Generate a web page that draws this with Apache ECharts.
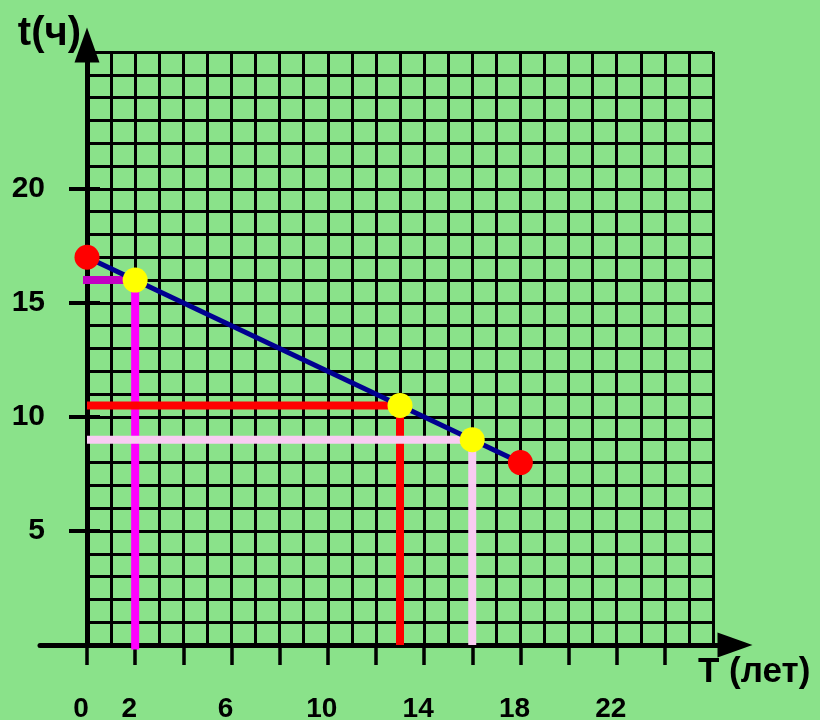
<!DOCTYPE html>
<html>
<head>
<meta charset="utf-8">
<script src="https://cdn.jsdelivr.net/npm/echarts@6/dist/echarts.min.js"></script>
<style>
  html, body { margin: 0; padding: 0; background: #8ae28a; }
  #chart { width: 820px; height: 720px; }
</style>
</head>
<body>
<div id="chart"></div>
<script>
// the straight line t(T), both ends marked red
const lineT = [0, 18];
const lineHours = [17, 8];
// yellow read-off points, each with its guide lines to the axes
const readT = [2, 13, 16];
const readHours = [16, 10.5, 9];
// tick labels that are written on the axes
const xTickLabels = [0, 2, 6, 10, 14, 18, 22];
const yTickLabels = [5, 10, 15, 20];
// squared paper is 26 x 26 cells
const paperMax = 26;

const font = "'Liberation Sans', Arial, sans-serif";
const guideStyles = [
  { h: "#c400c4", v: "#ff00ff", hFrom: -0.3, vFrom: -0.2 },
  { h: "#ff0000", v: "#ff0000", hFrom: 0, vFrom: 0 },
  { h: "#f9ccf2", v: "#f9ccf2", hFrom: 0, vFrom: 0 },
];

const series = [];
readT.forEach((t, i) => {
  const g = guideStyles[i];
  series.push({
    type: "line", xAxisIndex: 0, yAxisIndex: 0, symbol: "none", clip: false, silent: true, z: 3,
    data: [[g.hFrom, readHours[i]], [t, readHours[i]]],
    lineStyle: { color: g.h, width: 8 },
  });
  series.push({
    type: "line", xAxisIndex: 0, yAxisIndex: 0, symbol: "none", clip: false, silent: true, z: 3,
    data: [[t, g.vFrom], [t, readHours[i]]],
    lineStyle: { color: g.v, width: 8 },
  });
});
const linePoints = lineT.map((t, i) => [t, lineHours[i]]);
series.push({
  type: "line", xAxisIndex: 0, yAxisIndex: 0, symbol: "none", silent: true, z: 4,
  data: linePoints,
  lineStyle: { color: "#000090", width: 5 },
});
series.push({
  type: "scatter", xAxisIndex: 0, yAxisIndex: 0, symbolSize: 25, silent: true, z: 5,
  data: linePoints,
  itemStyle: { color: "#ff0000", opacity: 1 },
});
series.push({
  type: "scatter", xAxisIndex: 0, yAxisIndex: 0, symbolSize: 25, silent: true, z: 5,
  data: readT.map((t, i) => [t, readHours[i]]),
  itemStyle: { color: "#ffff00", opacity: 1 },
});

const hidden = { show: false };
const boldText = { fontWeight: "bold", color: "#000", fontFamily: font };

const chart = echarts.init(document.getElementById("chart"));
chart.setOption({
  backgroundColor: "#8ae28a",
  animation: false,
  grid: [
    // squared paper
    { left: 87, top: 52, width: 626, height: 593, outerBoundsMode: "none" },
    // ticks and labels (x to 24, y to 20)
    { left: 87, top: 189, width: 578, height: 456, outerBoundsMode: "none" },
    // x axis line with arrow
    { left: 40, top: 52, width: 695, height: 593, outerBoundsMode: "none" },
    // y axis line with arrow
    { left: 87, top: 45, width: 626, height: 600, outerBoundsMode: "none" },
  ],
  graphic: [
    {
      type: "text", left: 698, top: 655, z: 10,
      style: Object.assign({ text: "T (лет)", fontSize: 35 }, boldText, { fill: "#000" }),
    },
  ],
  xAxis: [
    {
      gridIndex: 0, type: "value", min: 0, max: paperMax, interval: 1,
      axisLine: hidden, axisTick: hidden, axisLabel: hidden,
      splitLine: { show: true, lineStyle: { color: "#000", width: 3 } },
    },
    {
      gridIndex: 1, type: "value", min: 0, max: 24, interval: 2,
      axisLine: hidden, splitLine: hidden,
      axisTick: { show: true, length: 20, lineStyle: { color: "#000", width: 3.5 } },
      axisLabel: Object.assign({
        margin: 50, fontSize: 28, lineHeight: 28, padding: [0, 12, 0, 0],
        formatter: (v) => (xTickLabels.includes(v) ? String(v) : ""),
      }, boldText),
    },
    {
      gridIndex: 2, type: "value", min: 0, max: 1,
      axisLine: {
        show: true, symbol: ["none", "triangle"], symbolSize: [25, 35],
        lineStyle: { color: "#000", width: 5 },
      },
      axisTick: hidden, axisLabel: hidden, splitLine: hidden,
    },
    { gridIndex: 3, type: "value", min: 0, max: 1, show: false },
  ],
  yAxis: [
    {
      gridIndex: 0, type: "value", min: 0, max: paperMax, interval: 1,
      axisLine: hidden, axisTick: hidden, axisLabel: hidden,
      splitLine: { show: true, lineStyle: { color: "#000", width: 3 } },
    },
    {
      gridIndex: 1, type: "value", position: "left", min: 0, max: 20, interval: 5,
      axisLine: hidden, splitLine: hidden,
      axisTick: { show: true, length: 18, lineStyle: { color: "#000", width: 4 } },
      axisLabel: Object.assign({
        margin: 42, fontSize: 30,
        formatter: (v) => (yTickLabels.includes(v) ? String(v) : ""),
      }, boldText),
    },
    {
      gridIndex: 1, type: "value", position: "left", min: 0, max: 20, interval: 5,
      axisLine: hidden, splitLine: hidden, axisLabel: hidden,
      axisTick: { show: true, inside: true, length: 13, lineStyle: { color: "#000", width: 4 } },
    },
    { gridIndex: 2, type: "value", min: 0, max: 1, show: false },
    {
      gridIndex: 3, type: "value", min: 0, max: 1,
      axisLine: {
        show: true, symbol: ["none", "triangle"], symbolSize: [25, 35],
        lineStyle: { color: "#000", width: 5 },
      },
      axisTick: hidden, axisLabel: hidden, splitLine: hidden,
      name: "t(ч)", nameLocation: "end", nameGap: 11,
      nameTextStyle: Object.assign({
        fontSize: 40, align: "right", verticalAlign: "middle", padding: [0, 6, 0, 0],
      }, boldText),
    },
  ],
  series: series,
});
</script>
</body>
</html>
